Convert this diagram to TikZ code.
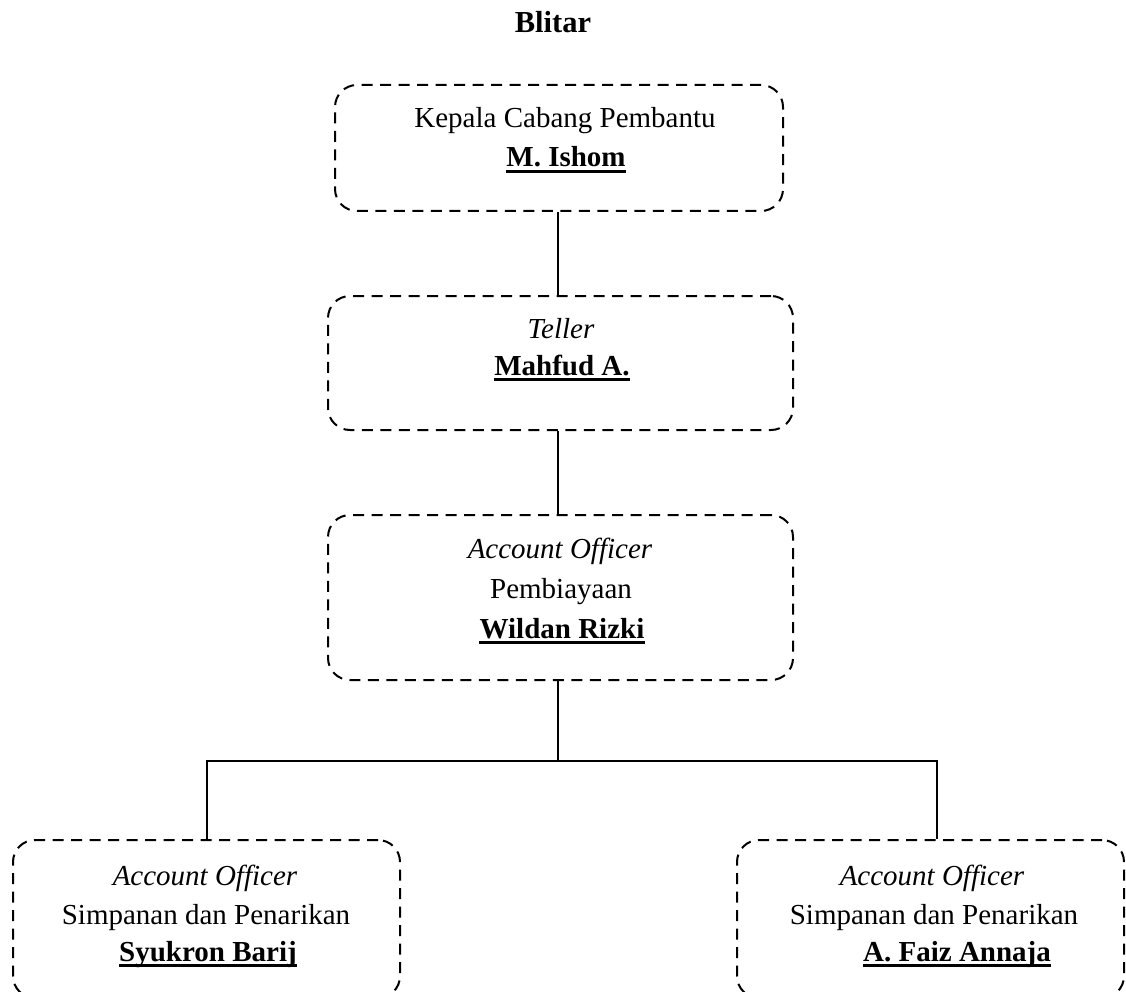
\documentclass[tikz,border=0pt]{standalone}
\usepackage{fontspec}
\setmainfont{Liberation Serif}
\begin{document}
\begin{tikzpicture}[x=1pt,y=-1pt,
  box/.style={draw=black, line width=2pt, dash pattern=on 11pt off 7.5pt, rounded corners=22pt, inner sep=0pt},
  conn/.style={draw=black, line width=1.6pt},
  txt/.style={anchor=base, inner sep=0pt, font=\fontsize{29}{35}\selectfont},
  ttl/.style={anchor=base, inner sep=0pt, font=\fontsize{30.5}{36}\selectfont\bfseries},
  uline/.style={draw=black, line width=2.2pt}]
\useasboundingbox (0,0) rectangle (1126,992);
\clip (0,0) rectangle (1126,992);

% title
\node[ttl] (title) at (553,33) {Blitar};

% boxes
\node[box, minimum width=448pt, minimum height=126pt] (b1) at (559,148) {};
\node[box, minimum width=465pt, minimum height=134pt] (b2) at (560.5,363) {};
\node[box, minimum width=465pt, minimum height=165pt] (b3) at (560.5,597.5) {};
\node[box, minimum width=387pt, minimum height=158pt] (b4) at (206.5,919) {};
\node[box, minimum width=387pt, minimum height=158pt] (b5) at (930.5,919) {};

% texts box 1
\node[txt] (t1a) at (565,128) {Kepala Cabang Pembantu};
\node[txt] (t1b) at (566,167) {\textbf{M. Ishom}};
% box 2
\node[txt] (t2a) at (561,338) {\textit{Teller}};
\node[txt] (t2b) at (562,375) {\textbf{Mahfud A.}};
% box 3
\node[txt] (t3a) at (560,558) {\textit{Account Officer}};
\node[txt] (t3b) at (561,598) {Pembiayaan};
\node[txt] (t3c) at (562,638) {\textbf{Wildan Rizki}};
% box 4
\node[txt] (t4a) at (205,885) {\textit{Account Officer}};
\node[txt] (t4b) at (206,924) {Simpanan dan Penarikan};
\node[txt] (t4c) at (208,961) {\textbf{Syukron Barij}};
% box 5
\node[txt] (t5a) at (932,885) {\textit{Account Officer}};
\node[txt] (t5b) at (934,924) {Simpanan dan Penarikan};
\node[txt] (t5c) at (957,961) {\textbf{A. Faiz Annaja}};

% underlines
\foreach \n in {t1b,t2b,t3c,t4c,t5c}
  \draw[uline] ([yshift=-4.5pt]\n.base west) -- ([yshift=-4.5pt]\n.base east);

% connectors
\coordinate (jx) at (558,0);
\coordinate (bar) at (558,761);
\coordinate (lx) at (207,0);
\coordinate (rx) at (937,0);
\draw[conn] (b1.south -| jx) -- (b2.north -| jx);
\draw[conn] (b2.south -| jx) -- (b3.north -| jx);
\draw[conn] (b3.south -| jx) -- (bar);
\draw[conn] (b4.north -| lx) |- (bar) -| (b5.north -| rx);
\end{tikzpicture}
\end{document}
